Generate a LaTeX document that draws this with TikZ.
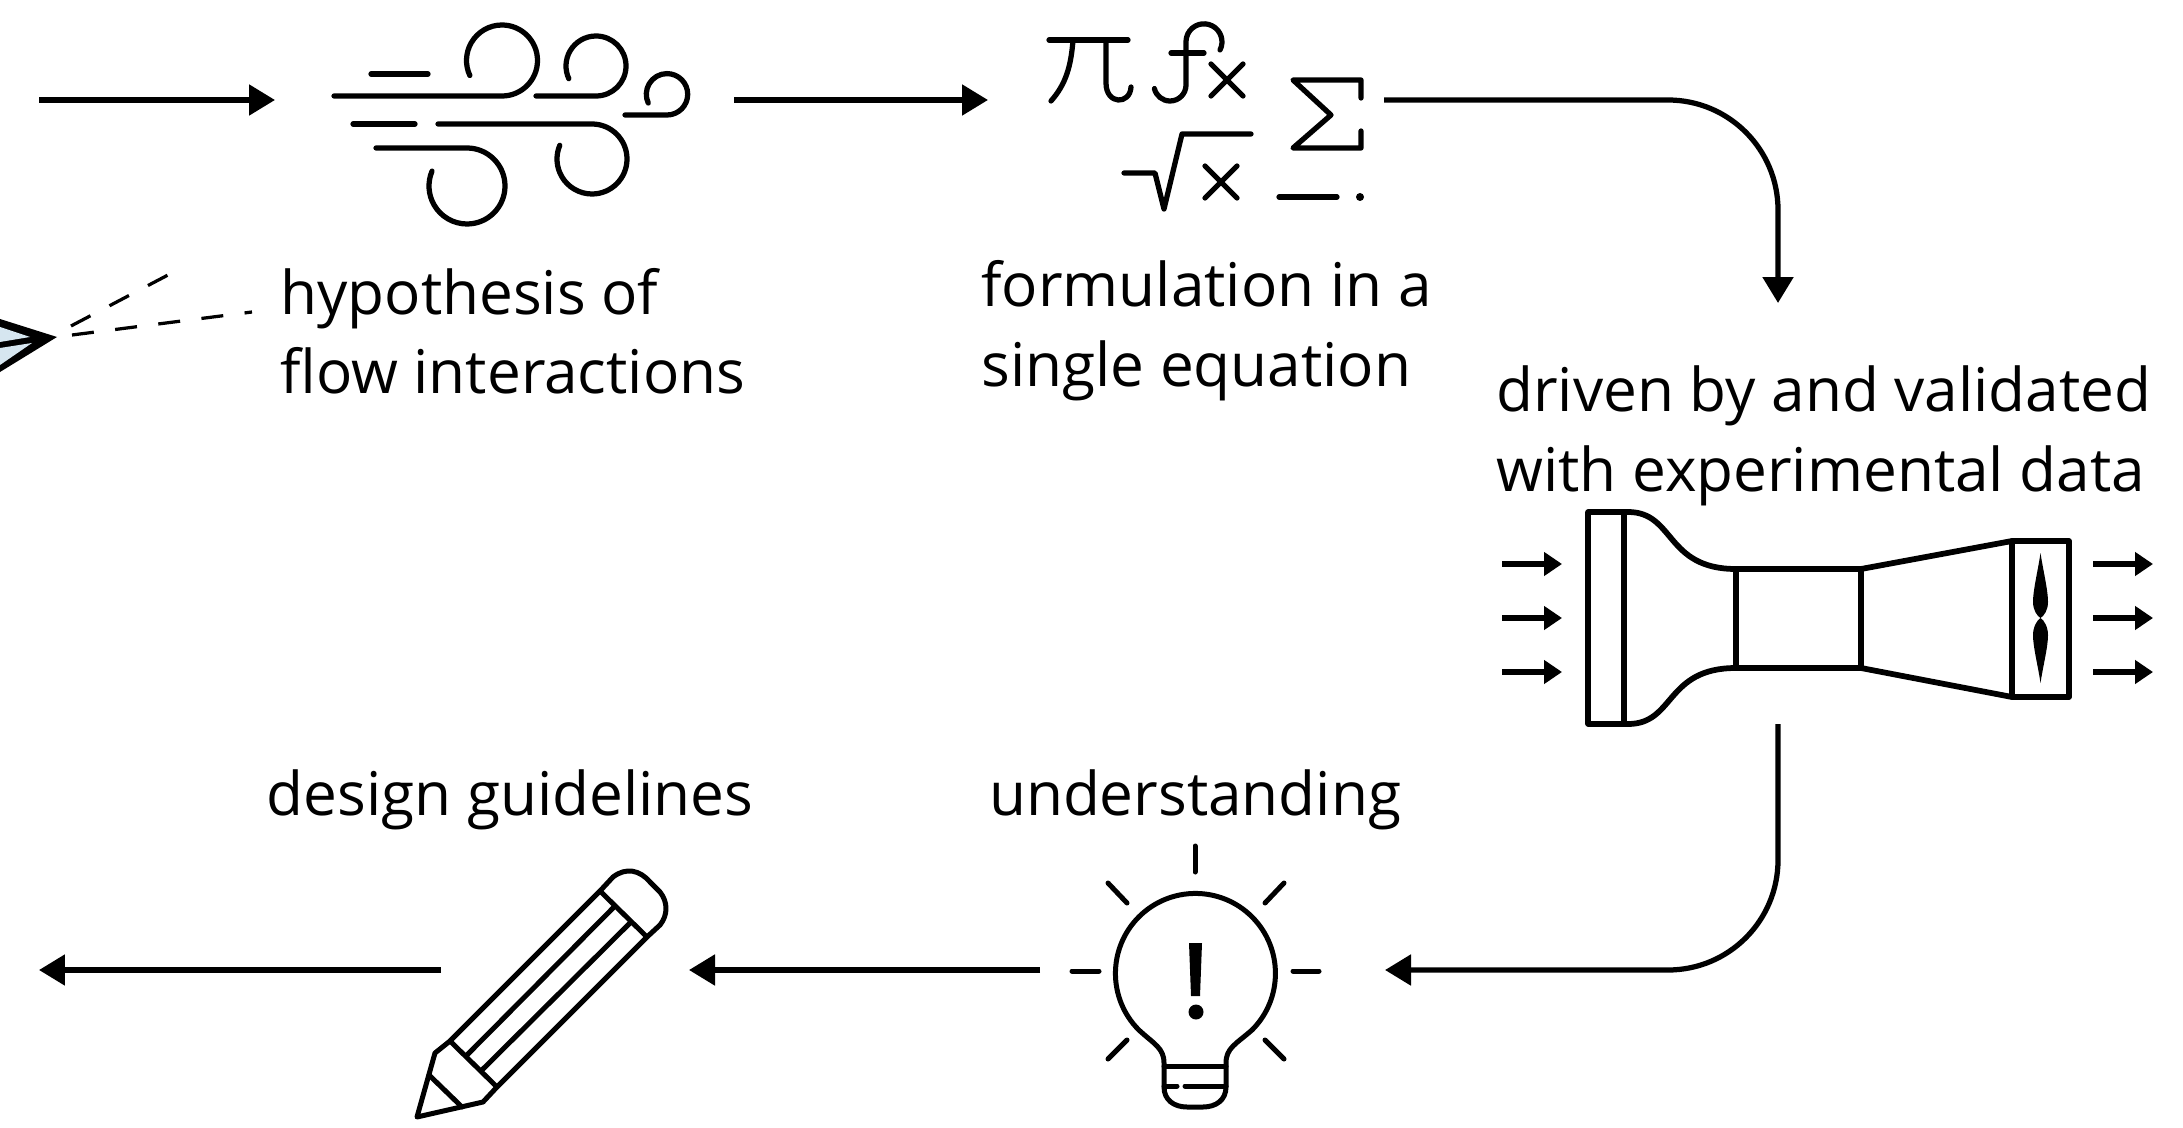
\documentclass[tikz,border=0pt]{standalone}
\usepackage{fontspec}
\setmainfont{Open Sans}
\usetikzlibrary{arrows.meta,positioning}
\definecolor{planeblue}{HTML}{D6E6F0}

\begin{document}
\begin{tikzpicture}[
    x=0.02cm, y=0.02cm, yscale=-1,
    caption/.style={inner sep=0pt, align=left, font=\fontsize{34.3}{45.2}\selectfont},
    flow/.style={line width=0.105cm,-{Triangle[length=0.52cm,width=0.6cm]}},
    airflow/.style={line width=0.115cm,-{Triangle[length=0.36cm,width=0.46cm]}},
    icon/.style={line width=0.105cm,line cap=round,line join=round},
    thinicon/.style={line width=0.1cm,line cap=round,line join=round},
    tunnel/.style={line width=0.115cm,line join=round},
    trail/.style={line width=0.065cm,dash pattern=on 0.44cm off 0.43cm}
]
\useasboundingbox (0,0) rectangle (2183,1128);

% Captions
\node[caption, anchor=base west] (hypo) at (280,394) {hypothesis of\\flow interactions};
\node[caption, anchor=base west] (formula) at (981,386) {formulation in a\\single equation};
\node[caption, anchor=base west] (data) at (1496,491) {driven by and validated\\with experimental data};
\node[caption, anchor=base] (understand) at (1195,815) {understanding};
\node[caption, anchor=base] (design) at (510,815) {design guidelines};

% Arrow ends
\coordinate (startA) at (39,100);
\coordinate (windIn) at (275,100);
\coordinate (windOut) at (734,100);
\coordinate (mathIn) at (988,100);
\coordinate (mathOut) at (1384,100);
\coordinate (tunnelIn) at (1778,303);
\coordinate (tunnelOut) at (1778,724);
\coordinate (bulbIn) at (1385,970);
\coordinate (bulbOut) at (1040,970);
\coordinate (pencilIn) at (689,970);
\coordinate (pencilOut) at (441,970);
\coordinate (endA) at (39,970);

% Arrows
\draw[flow] (startA) -- (windIn);
\draw[flow] (windOut) -- (mathIn);
\draw[flow, rounded corners=2.2cm] (mathOut) -| (tunnelIn);
\draw[flow, rounded corners=2.2cm] (tunnelOut) |- (bulbIn);
\draw[flow] (bulbOut) -- (pencilIn);
\draw[flow] (pencilOut) -- (endA);

% Plane
\fill (0,319) -- (57,337) -- (0,372) -- cycle;
\fill[planeblue] (0,327) -- (30,337) -- (0,342) -- cycle;
\fill[planeblue] (0,348) -- (32,343) -- (0,365) -- cycle;
\coordinate (planeA) at (71,326);
\coordinate (planeB) at (168,275);
\coordinate (planeC) at (72,335);
\coordinate (planeD) at (252,312);
\draw[trail] (planeA) -- (planeB);
\draw[trail] (planeC) -- (planeD);

% Wind
\draw[icon] (371,74) -- (428,74);
\draw[icon] (334,96) -- (502,96) arc[start angle=90, end angle=-205, radius=35.5];
\draw[icon] (536,96) -- (596,96) arc[start angle=90, end angle=-205, radius=30];
\draw[icon] (625,115) -- (667,115) arc[start angle=90, end angle=-205, radius=20.7];
\draw[icon] (353,124) -- (415,124);
\draw[icon] (438,124) -- (592,124) arc[start angle=-90, end angle=203, radius=35];
\draw[icon] (376,148) -- (467,148) arc[start angle=-90, end angle=203, radius=38];

% Math symbols
\draw[icon] (1049,40) -- (1128,40);
\draw[icon] (1073,40) .. controls (1071,66) and (1066,84) .. (1051,101);
\draw[icon] (1106,40) -- (1106,83) .. controls (1106,105) and (1130,105) .. (1131,87);
\draw[icon] (1220,50) arc[start angle=27, end angle=-180, radius=18] -- (1186,85)
    arc[start angle=0, end angle=167, radius=16];
\draw[icon] (1171,53) -- (1204,53);
\draw[icon] (1211,96) -- (1243,64) (1211,64) -- (1243,96);
\draw[icon] (1361,98) -- (1361,80) -- (1293,80) -- (1331,115) -- (1293,148) -- (1361,148) -- (1361,131);
\draw[icon] (1124,173) -- (1155,173) -- (1164,209) -- (1182,134) -- (1251,134);
\draw[icon] (1205,166) -- (1237,198) (1205,198) -- (1237,166);
\draw[icon] (1279,197) -- (1337,197);
\fill (1360,197) circle[radius=4];

% Wind tunnel
\draw[tunnel] (1736,569) .. controls (1665,569) and (1675,512) .. (1628,512) -- (1588,512)
    -- (1588,724) -- (1628,724) .. controls (1675,724) and (1665,668) .. (1736,668);
\draw[tunnel] (1624,512) -- (1624,724);
\draw[tunnel] (1736,569) rectangle (1861,668);
\draw[tunnel] (1861,569) -- (2012,541);
\draw[tunnel] (1861,668) -- (2012,697);
\draw[tunnel] (2012,541) rectangle (2069,697);
\fill (2040.5,553) .. controls (2043,570) and (2048,590) .. (2048,602) .. controls (2048,610) and (2044,616) .. (2040.5,618)
    .. controls (2037,616) and (2033,610) .. (2033,602) .. controls (2033,590) and (2038,570) .. (2040.5,553);
\fill (2040.5,683) .. controls (2043,666) and (2048,647) .. (2048,635) .. controls (2048,627) and (2044,620) .. (2040.5,618)
    .. controls (2037,620) and (2033,627) .. (2033,635) .. controls (2033,647) and (2038,666) .. (2040.5,683);
\foreach \rowy in {564,618,672} {
    \coordinate (inA\rowy) at (1502,\rowy);
    \coordinate (inB\rowy) at (1562,\rowy);
    \coordinate (outA\rowy) at (2093,\rowy);
    \coordinate (outB\rowy) at (2153,\rowy);
    \draw[airflow] (inA\rowy) -- (inB\rowy);
    \draw[airflow] (outA\rowy) -- (outB\rowy);
}

% Bulb
\draw[thinicon] (1195,846) -- (1195,872);
\draw[thinicon] (1072,971) -- (1099,971);
\draw[thinicon] (1293,971) -- (1319,971);
\draw[thinicon] (1108,883) -- (1127,903);
\draw[thinicon] (1284,883) -- (1265,903);
\draw[thinicon] (1108,1059) -- (1127,1040);
\draw[thinicon] (1284,1059) -- (1265,1040);
\draw[thinicon] (1226,1087) -- (1226,1063) .. controls (1226,1048) and (1236,1044) .. (1252,1030)
    arc[start angle=45, end angle=-225, radius=80]
    .. controls (1154,1044) and (1164,1048) .. (1164,1063) -- (1164,1087)
    .. controls (1164,1100) and (1174,1107) .. (1187,1107) -- (1203,1107)
    .. controls (1216,1107) and (1226,1100) .. (1226,1087);
\draw[thinicon] (1164,1066) -- (1226,1066);
\draw[thinicon] (1164,1086) -- (1177,1086);
\draw[thinicon] (1185,1086) -- (1226,1086);
\fill (1189,943) -- (1202,943) -- (1200,996) -- (1191,996) -- cycle;
\fill (1196,1012) circle[radius=7.5];

% Pencil
\draw[thinicon] (417,1117) -- (435,1053) -- (450,1041) -- (600,891) -- (613,877)
    .. controls (626,867) and (640,870) .. (650,882) -- (660,892)
    .. controls (668,902) and (668,915) .. (660,925) -- (647,937)
    -- (497,1087) -- (483,1102) -- cycle;
\draw[thinicon] (600,891) -- (647,937);
\draw[thinicon] (450,1041) -- (497,1087);
\draw[thinicon] (429,1075) -- (462,1107);
\draw[thinicon] (613,908) -- (467,1055);
\draw[thinicon] (630,923) -- (482,1070);

\end{tikzpicture}
\end{document}
